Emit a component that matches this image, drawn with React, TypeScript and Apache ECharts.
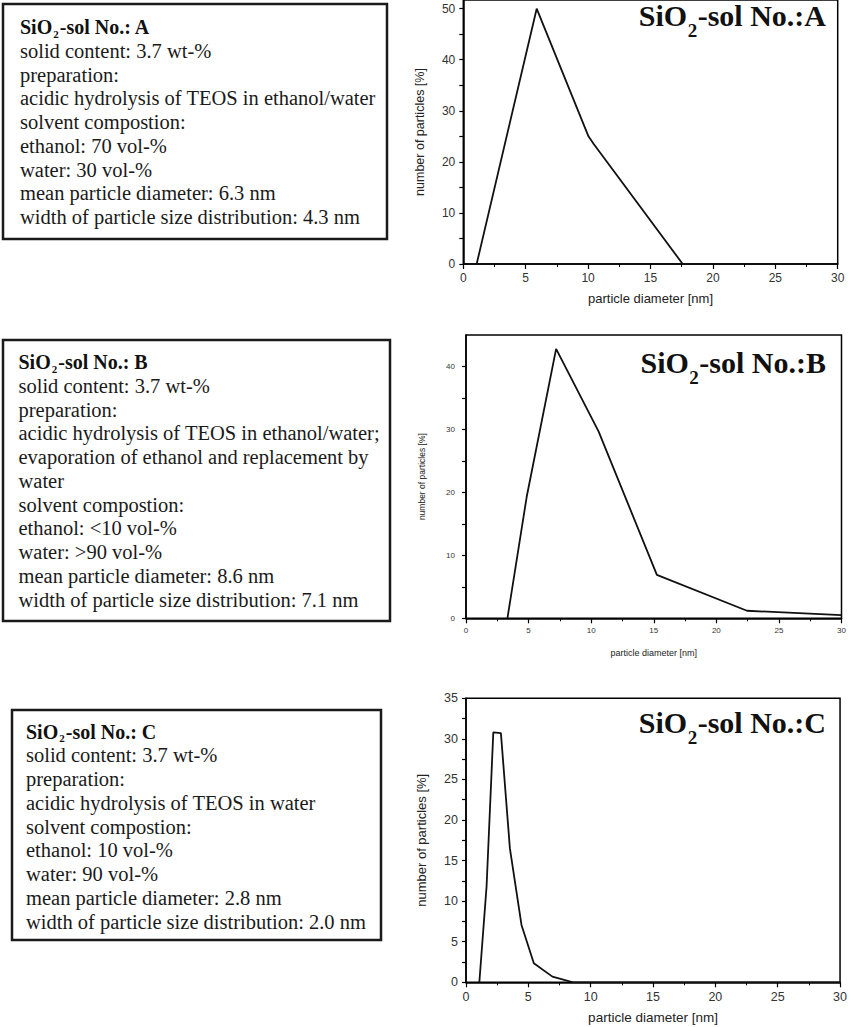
import React, { useEffect, useRef } from "react";
import * as echarts from "echarts";

// ---- data ----
const diamA = [1.07, 5.88, 10.03, 10.45, 17.58];
const numA = [0, 50, 25, 23.5, 0];
const diamB = [3.31, 4.85, 7.2, 10.59, 15.25, 22.45, 30];
const numB = [0, 19.3, 42.8, 29.7, 6.9, 1.2, 0.5];
const diamC = [1.07, 1.65, 2.19, 2.8, 3.52, 4.45, 5.44, 6.93, 8.59, 30];
const numC = [0, 11.8, 30.8, 30.7, 16.5, 7.07, 2.34, 0.7, 0, 0];

const solNames = ["A", "B", "C"];
const xAxisName = "particle diameter [nm]";
const yAxisName = "number of particles [%]";

const linesA = [
  "solid content: 3.7 wt-%",
  "preparation:",
  "acidic hydrolysis of TEOS in ethanol/water",
  "solvent compostion:",
  "ethanol: 70 vol-%",
  "water: 30 vol-%",
  "mean particle diameter: 6.3 nm",
  "width of particle size distribution: 4.3 nm",
];
const linesB = [
  "solid content: 3.7 wt-%",
  "preparation:",
  "acidic hydrolysis of TEOS in ethanol/water;",
  "evaporation of ethanol and replacement by",
  "water",
  "solvent compostion:",
  "ethanol: <10 vol-%",
  "water: >90 vol-%",
  "mean particle diameter: 8.6 nm",
  "width of particle size distribution: 7.1 nm",
];
const linesC = [
  "solid content: 3.7 wt-%",
  "preparation:",
  "acidic hydrolysis of TEOS in water",
  "solvent compostion:",
  "ethanol: 10 vol-%",
  "water: 90 vol-%",
  "mean particle diameter: 2.8 nm",
  "width of particle size distribution: 2.0 nm",
];

const SERIF = "'Liberation Serif', 'Times New Roman', serif";
const SANS = "'Liberation Sans', Arial, sans-serif";

let measureCtx: CanvasRenderingContext2D | null = null;
function tw(s: string, size: number, bold: boolean) {
  if (!measureCtx) measureCtx = document.createElement("canvas").getContext("2d");
  measureCtx!.font = `${bold ? "bold " : ""}${size}px 'Liberation Serif'`;
  return measureCtx!.measureText(s).width;
}

function subText(
  pre: string,
  sub: string,
  post: string,
  x: number,
  cy: number,
  size: number,
  subSize: number,
  subOffset: number,
  alignRight: boolean,
  gap: number
) {
  const w1 = tw(pre, size, true);
  const w2 = tw(sub, subSize, true);
  const w3 = tw(post, size, true);
  const total = w1 + w2 + w3 + 2 * gap;
  const x0 = alignRight ? x - total : x;
  const base = { fontFamily: SERIF, fontWeight: "bold", fill: "#111", verticalAlign: "middle", align: "left" };
  return [
    { type: "text", x: x0, y: cy, style: { ...base, text: pre, fontSize: size } },
    { type: "text", x: x0 + w1 + gap, y: cy + subOffset, style: { ...base, text: sub, fontSize: subSize } },
    { type: "text", x: x0 + w1 + w2 + 2 * gap, y: cy, style: { ...base, text: post, fontSize: size } },
  ];
}

function infoBox(
  name: string,
  lines: string[],
  bx: number,
  by: number,
  bw: number,
  bh: number,
  tx: number,
  ty: number,
  step: number
) {
  const els: any[] = [
    {
      type: "rect",
      shape: { x: bx, y: by, width: bw, height: bh },
      style: { fill: "none", stroke: "#1a1a1a", lineWidth: 2.5 },
    },
    ...subText("SiO", "2", "-sol No.: " + name, tx, ty, 20, 11, 6.5, false, 1),
  ];
  lines.forEach((l, i) => {
    els.push({
      type: "text",
      x: tx,
      y: ty + step * (i + 1),
      style: { text: l, fontFamily: SERIF, fontSize: 20.5, fill: "#1a1a1a", verticalAlign: "middle", align: "left" },
    });
  });
  return els;
}

const pairs = (xs: number[], ys: number[]) => xs.map((x, i) => [x, ys[i]]);

function mkX(idx: number, labelSize: number, nameSize: number, nameGap: number, labelMargin: number) {
  return {
    type: "value",
    gridIndex: idx,
    min: 0,
    max: 30,
    interval: 5,
    axisLine: { show: true, onZero: false, lineStyle: { color: "#000", width: 1.5 } },
    axisTick: { show: true, inside: false, length: 5, lineStyle: { color: "#000", width: 1.2 } },
    minorTick: { show: true, splitNumber: 2, length: 3, lineStyle: { color: "#000", width: 1 } },
    splitLine: { show: false },
    minorSplitLine: { show: false },
    axisLabel: { color: "#333", fontFamily: SANS, fontSize: labelSize, margin: labelMargin },
    name: xAxisName,
    nameLocation: "middle",
    nameGap,
    nameTextStyle: { color: "#222", fontFamily: SANS, fontSize: nameSize },
  };
}

function mkY(
  idx: number,
  max: number,
  interval: number,
  labelStep: number,
  labelSize: number,
  nameSize: number,
  nameGap: number,
  labelMargin: number
) {
  return {
    type: "value",
    gridIndex: idx,
    min: 0,
    max,
    interval,
    axisLine: { show: true, onZero: false, lineStyle: { color: "#000", width: 1.5 } },
    axisTick: { show: true, inside: false, length: 4, lineStyle: { color: "#000", width: 1.2 } },
    splitLine: { show: false },
    axisLabel: {
      color: "#333",
      fontFamily: SANS,
      fontSize: labelSize,
      margin: labelMargin,
      showMaxLabel: max % labelStep === 0,
      formatter: (v: number) => (Math.abs(v / labelStep - Math.round(v / labelStep)) < 1e-6 ? String(Math.round(v)) : ""),
    },
    name: yAxisName,
    nameLocation: "middle",
    nameGap,
    nameTextStyle: { color: "#222", fontFamily: SANS, fontSize: nameSize },
  };
}

export default function App() {
  const ref = useRef<HTMLDivElement>(null);
  useEffect(() => {
    document.body.style.margin = "0";
    const chart = echarts.init(ref.current!, null, { renderer: "svg" });
    const gridBase = { show: true, borderColor: "#000", borderWidth: 1.5, backgroundColor: "transparent", containLabel: false };
    const graphics: any[] = [
      ...infoBox(solNames[0], linesA, 3, 4, 384, 235, 20, 27, 23.75),
      ...infoBox(solNames[1], linesB, 3, 340, 387, 281, 18.5, 362, 23.75),
      ...infoBox(solNames[2], linesC, 12, 710, 369, 230, 26, 731.5, 23.75),
      ...subText("SiO", "2", "-sol No.:" + solNames[0], 826, 15.5, 30, 19, 15, true, 0.5),
      ...subText("SiO", "2", "-sol No.:" + solNames[1], 826, 362, 30, 19, 15, true, 0.5),
      ...subText("SiO", "2", "-sol No.:" + solNames[2], 826, 722, 30, 19, 15, true, 0.5),
    ];
    chart.setOption({
      animation: false,
      backgroundColor: "#fff",
      grid: [
        { ...gridBase, left: 463.3, right: 12.3, top: -3, bottom: 763 },
        { ...gridBase, left: 466, right: 8.5, top: 335, bottom: 408.7 },
        { ...gridBase, left: 466, right: 9.3, top: 698.3, bottom: 44.7 },
      ],
      xAxis: [mkX(0, 12, 13, 28, 8), mkX(1, 8, 9, 30, 8), mkX(2, 12.5, 13.5, 28, 8)],
      yAxis: [
        mkY(0, 51.7, 5, 10, 12, 12.5, 37, 8),
        mkY(1, 45, 5, 10, 8, 8.5, 40, 11),
        mkY(2, 35, 2.5, 5, 12.5, 13, 38, 8),
      ],
      series: [
        { type: "line", xAxisIndex: 0, yAxisIndex: 0, data: pairs(diamA, numA), symbol: "none", lineStyle: { color: "#111", width: 1.8 } },
        { type: "line", xAxisIndex: 1, yAxisIndex: 1, data: pairs(diamB, numB), symbol: "none", lineStyle: { color: "#111", width: 1.8 } },
        { type: "line", xAxisIndex: 2, yAxisIndex: 2, data: pairs(diamC, numC), symbol: "none", lineStyle: { color: "#111", width: 1.8 } },
      ],
      graphic: graphics,
    });
    return () => chart.dispose();
  }, []);
  return <div ref={ref} style={{ width: 850, height: 1027 }} />;
}
